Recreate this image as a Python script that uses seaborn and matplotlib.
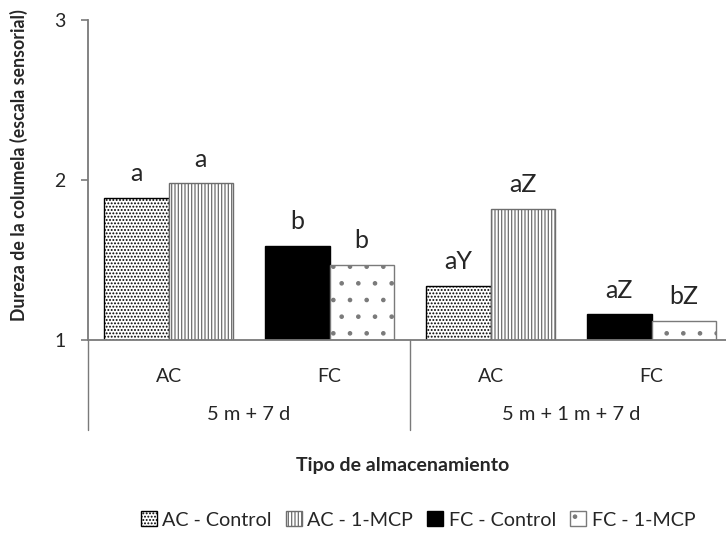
import matplotlib
matplotlib.use("Agg")
import matplotlib.pyplot as plt
import matplotlib.transforms as mtransforms
from matplotlib.patches import Patch
import seaborn as sns
import pandas as pd

# ---- data ----
categories = ["AC", "FC", "AC", "FC"]
cat_keys = ["AC_1", "FC_1", "AC_2", "FC_2"]
groups = ["5 m + 7 d", "5 m + 1 m + 7 d"]
treatments = ["Control", "1-MCP"]
control_vals = [1.89, 1.59, 1.34, 1.16]
mcp_vals = [1.98, 1.47, 1.82, 1.12]
control_letters = ["a", "b", "aY", "aZ"]
mcp_letters = ["a", "b", "aZ", "bZ"]
legend_labels = ["AC - Control", "AC - 1-MCP", "FC - Control", "FC - 1-MCP"]
y_ticks = [1, 2, 3]

sns.set_style("white")
plt.rcParams["font.family"] = ["Lato", "DejaVu Sans"]
plt.rcParams["hatch.linewidth"] = 0.9

df = pd.DataFrame({
    "cat": cat_keys * 2,
    "trat": [treatments[0]] * 4 + [treatments[1]] * 4,
    "val": control_vals + mcp_vals,
})

W, H = 726, 534
fig = plt.figure(figsize=(W / 100, H / 100), dpi=100)
ax = fig.add_axes([88 / W, 1 - 340 / H, (W - 88) / W, 320 / H])

sns.barplot(data=df, x="cat", y="val", hue="trat", order=cat_keys,
            hue_order=treatments, width=0.8, errorbar=None, legend=False,
            ax=ax, saturation=1)

gray = "#7a7a7a"
styles = {
    ("AC", "Control"): dict(facecolor="white", edgecolor="black", hatch="....."),
    ("AC", "1-MCP"): dict(facecolor="white", edgecolor="#6e6e6e", hatch="|||||"),
    ("FC", "Control"): dict(facecolor="black", edgecolor="black", hatch=None),
    ("FC", "1-MCP"): dict(facecolor="white", edgecolor=gray, hatch="."),
}

for ti, cont in enumerate(ax.containers):
    trat = treatments[ti]
    letters = control_letters if ti == 0 else mcp_letters
    for ci, bar in enumerate(cont.patches):
        st = styles[(categories[ci], trat)]
        bar.set_facecolor(st["facecolor"])
        bar.set_edgecolor(st["edgecolor"])
        bar.set_hatch(st["hatch"])
        bar.set_linewidth(1.0)
        x = bar.get_x() + bar.get_width() / 2
        ax.annotate(letters[ci], (x, bar.get_height()), xytext=(0, 12),
                    textcoords="offset points", ha="center", va="baseline",
                    fontsize=18)

ax.set_ylim(1, 3)
ax.set_xlim(-0.5, 3.5 - 6 / 161)
ax.set_yticks(y_ticks)
ax.set_yticklabels([str(t) for t in y_ticks], fontsize=14)
ax.set_xticks(range(4))
ax.set_xticklabels(categories, fontsize=14)
ax.tick_params(axis="x", length=0, pad=20)
ax.tick_params(axis="y", length=5, width=1.2, color=gray, pad=11, left=True)
ax.set_xlabel("")
ax.set_ylabel("")

for side in ["top", "right"]:
    ax.spines[side].set_visible(False)
for side in ["left", "bottom"]:
    ax.spines[side].set_color(gray)
    ax.spines[side].set_linewidth(1.3)

trans = mtransforms.blended_transform_factory(ax.transData, ax.transAxes)
bottom_frac = -(430 - 340) / 320
for xs in [-0.5, 1.5, 3.5]:
    ax.plot([xs, xs], [0, bottom_frac], transform=trans, color=gray,
            lw=1.0, clip_on=False)
for gi, g in enumerate(groups):
    ax.text(0.5 + 2 * gi, -(414 - 340) / 320, g, transform=trans,
            ha="center", va="center", fontsize=14.5)

fig.text(19 / W, 1 - 165 / H, "Dureza de la columela (escala sensorial)",
         rotation=90, ha="center", va="center", fontsize=12.8,
         fontweight="bold")
fig.text(403 / W, 1 - 466 / H, "Tipo de almacenamiento", ha="center",
         va="center", fontsize=14, fontweight="bold")

handles = [Patch(**styles[("AC", "Control")]), Patch(**styles[("AC", "1-MCP")]),
           Patch(**styles[("FC", "Control")]), Patch(**styles[("FC", "1-MCP")])]
fig.legend(handles, legend_labels, loc="center", ncol=4, frameon=False,
           bbox_to_anchor=(418 / W, 1 - 520 / H), fontsize=14.2,
           handlelength=0.8, handleheight=0.8, handletextpad=0.3,
           columnspacing=0.7)

fig.savefig("out.png", dpi=100)
